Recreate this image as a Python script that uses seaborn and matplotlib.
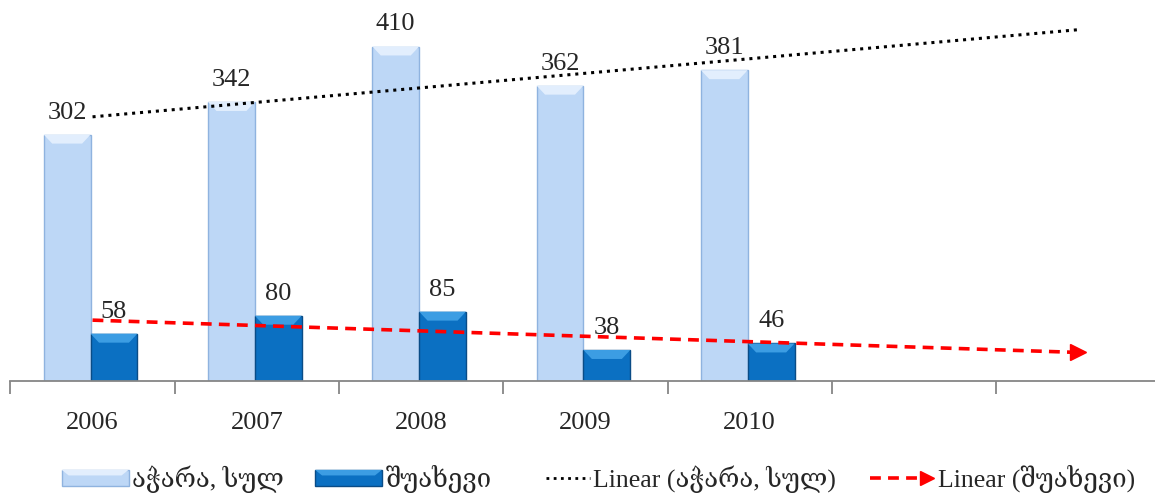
import numpy as np
import pandas as pd
import matplotlib
matplotlib.use("Agg")
import matplotlib.pyplot as plt
import seaborn as sns
from matplotlib.patches import Polygon, Rectangle
from matplotlib.lines import Line2D
from matplotlib.legend_handler import HandlerBase

# Data
slots = ["2006", "2007", "2008", "2009", "2010", "", " "]
years = ["2006", "2007", "2008", "2009", "2010"]
adjara = [302, 342, 410, 362, 381]
shuakhevi = [58, 80, 85, 38, 46]
series_names = ["აჭარა, სულ", "შუახევი"]

df = pd.DataFrame({
    "year": years * 2,
    "value": adjara + shuakhevi,
    "series": [series_names[0]] * 5 + [series_names[1]] * 5,
})

sns.set_style("white")
fonts = ["Liberation Serif", "DejaVu Serif", "DejaVu Sans"]
plt.rcParams["font.family"] = fonts

light = "#BDD7F6"
dark = "#0B70C2"

fig = plt.figure(figsize=(11.55, 4.97), dpi=100)
ax = fig.add_axes([0.009, 0.2334, 0.9957, 0.7666])

sns.barplot(data=df, x="year", y="value", hue="series", order=slots,
            hue_order=series_names, palette=[light, dark], width=0.57,
            gap=0, saturation=1, legend=False, ax=ax)

# bevel effect on each bar
edge_cols = {light: "#8FB3DF", dark: "#0A4C86"}
top_cols = {light: "#E2EEFD", dark: "#3C9DE3"}
for cont, col in zip(ax.containers, [light, dark]):
    for bar in cont:
        bar.set_x(bar.get_x() - 0.012)
        x, y, w, h = bar.get_x(), bar.get_y(), bar.get_width(), bar.get_height()
        bar.set_edgecolor(edge_cols[col])
        bar.set_linewidth(1.0)
        dx, dy = w * 0.18, 11
        ax.add_patch(Polygon([[x, y + h], [x + w, y + h], [x + w - dx, y + h - dy],
                              [x + dx, y + h - dy]], closed=True,
                             facecolor=top_cols[col], edgecolor="none", zorder=3))
    ax.bar_label(cont, fontsize=19, padding=8, family=fonts)

# linear trendlines, forecast over the two empty slots
xi = np.arange(len(years))
xt = np.array([0, len(slots) - 1])
p1 = np.polyfit(xi, adjara, 1)
p2 = np.polyfit(xi, shuakhevi, 1)
ax.plot(xt, np.polyval(p1, xt), color="black", ls=(0, (1, 1.6)), lw=2.2, zorder=4)
ax.plot(xt, np.polyval(p2, xt), color="red", ls=(0, (3, 2)), lw=2.6, zorder=4)
ax.plot([xt[-1]], [np.polyval(p2, xt[-1])], marker=">", color="red",
        markersize=11, zorder=4)

ax.set_xlim(-0.5, len(slots) - 0.5)
ax.set_ylim(0, 467)
ax.set_yticks([])
ax.set_xlabel("")
ax.set_ylabel("")
for s in ["left", "right", "top"]:
    ax.spines[s].set_visible(False)
ax.spines["bottom"].set_color("#868686")
ax.spines["bottom"].set_linewidth(1.3)
ax.set_xticks(np.arange(len(slots) + 1) - 0.5)
ax.set_xticklabels([])
ax.tick_params(axis="x", which="major", length=9, width=1.3, color="#868686",
               direction="out", bottom=True)
ax.set_xticks(np.arange(len(years)), minor=True)
ax.set_xticklabels(years, minor=True, fontsize=19)
ax.tick_params(axis="x", which="minor", length=0, pad=22)


class LineHandler(HandlerBase):
    # draws the line only over the right part of the handle box
    def __init__(self, frac, color, ls, lw, arrow=False):
        super().__init__()
        self.frac, self.color, self.ls, self.lw, self.arrow = frac, color, ls, lw, arrow

    def create_artists(self, legend, orig_handle, xdescent, ydescent,
                       width, height, fontsize, trans):
        y = height / 2 - ydescent
        x1 = width - xdescent - (5 if self.arrow else 0)
        x0 = x1 - width * self.frac
        arts = [Line2D([x0, x1], [y, y], color=self.color, ls=self.ls,
                       lw=self.lw, transform=trans)]
        if self.arrow:
            arts.append(Line2D([x1], [y], marker=">", color=self.color,
                               markersize=10, transform=trans))
        return arts


class BarHandler(HandlerBase):
    def __init__(self, face, edge, top):
        super().__init__()
        self.face, self.edge, self.top = face, edge, top

    def create_artists(self, legend, orig_handle, xdescent, ydescent,
                       width, height, fontsize, trans):
        x0, y0 = -xdescent, -ydescent
        r = Rectangle((x0, y0), width, height, facecolor=self.face,
                      edgecolor=self.edge, lw=1, transform=trans)
        t = Polygon([[x0, y0 + height], [x0 + width, y0 + height],
                     [x0 + width - 5, y0 + height - 4], [x0 + 5, y0 + height - 4]],
                    facecolor=self.top, edgecolor="none", transform=trans)
        return [r, t]


h1 = Rectangle((0, 0), 1, 1)
h2 = Rectangle((0, 0), 1, 1)
h3 = Line2D([], [])
h4 = Line2D([], [])
fig.legend([h1, h2, h3, h4],
           [series_names[0], series_names[1],
            "Linear (" + series_names[0] + ")", "Linear (" + series_names[1] + ")"],
           handler_map={h1: BarHandler(light, edge_cols[light], top_cols[light]),
                        h2: BarHandler(dark, edge_cols[dark], top_cols[dark]),
                        h3: LineHandler(0.65, "black", (0, (1, 1.6)), 2.0),
                        h4: LineHandler(0.85, "red", (0, (3, 2)), 2.6, arrow=True)},
           loc="center", bbox_to_anchor=(0.518, 0.036), ncol=4, frameon=False,
           fontsize=18.5, handlelength=2.6, handleheight=0.6, handletextpad=0.15,
           columnspacing=1.2)

fig.savefig("out.png", dpi=100)
